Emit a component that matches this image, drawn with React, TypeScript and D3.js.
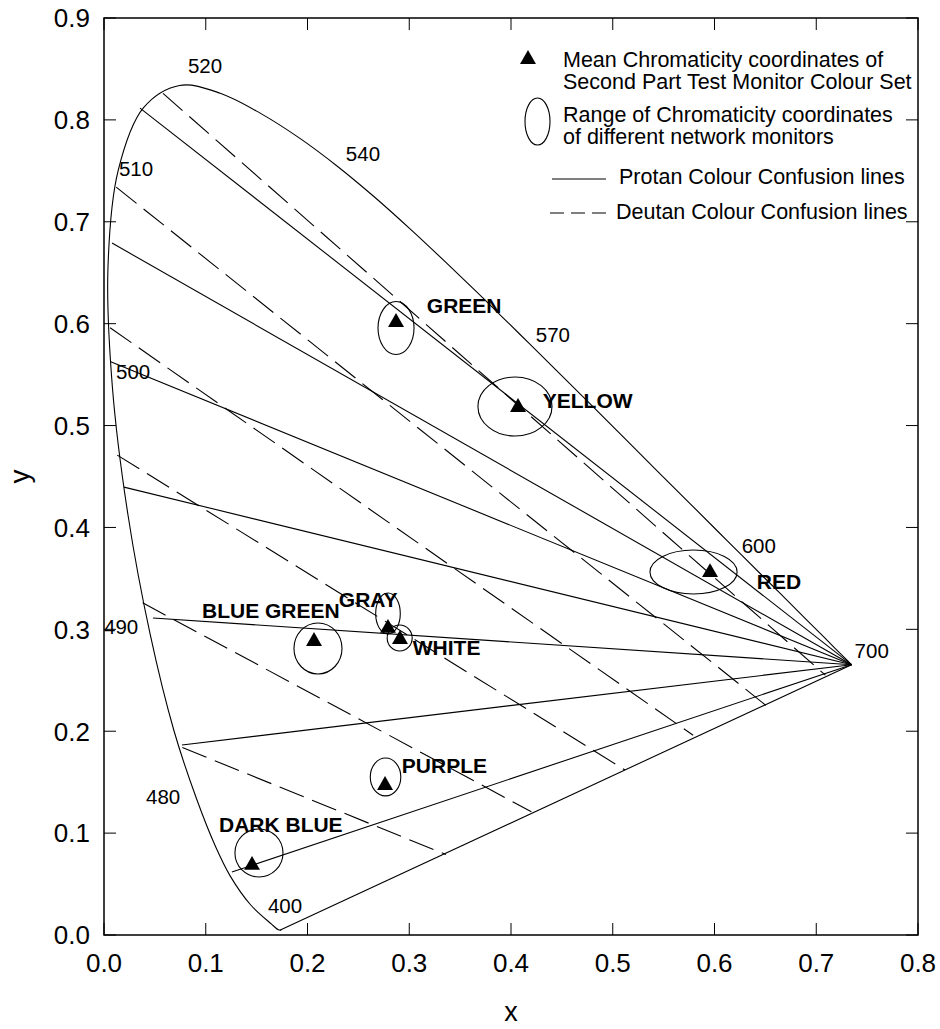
import React from "react";
import * as d3 from "d3";

// CIE 1931 spectral locus (wavelength in nm, chromaticity x, y)
const locusNm = [380, 400, 420, 440, 460, 470, 475, 480, 485, 490, 495, 500, 505, 510, 515, 520, 525, 530, 535, 540, 545, 550, 555, 560, 565, 570, 575, 580, 585, 590, 595, 600, 610, 620, 630, 640, 650, 660, 680, 700];
const locusX = [0.1741, 0.1733, 0.1714, 0.1644, 0.144, 0.1241, 0.1096, 0.0913, 0.0687, 0.0454, 0.0235, 0.0082, 0.0039, 0.0139, 0.0389, 0.0743, 0.1142, 0.1547, 0.1929, 0.2296, 0.2658, 0.3016, 0.3373, 0.3731, 0.4087, 0.4441, 0.4788, 0.5125, 0.5448, 0.5752, 0.6029, 0.627, 0.6658, 0.6915, 0.7079, 0.719, 0.726, 0.73, 0.7334, 0.7347];
const locusY = [0.005, 0.0048, 0.0051, 0.0109, 0.0297, 0.0578, 0.0868, 0.1327, 0.2007, 0.295, 0.4127, 0.5384, 0.6548, 0.7502, 0.812, 0.8338, 0.8262, 0.8059, 0.7816, 0.7543, 0.7243, 0.6923, 0.6589, 0.6245, 0.5896, 0.5547, 0.5202, 0.4866, 0.4544, 0.4242, 0.3965, 0.3725, 0.334, 0.3083, 0.292, 0.2809, 0.274, 0.27, 0.2666, 0.2653];

// Wavelength annotations along the locus
const wlText = ["520", "510", "540", "570", "500", "600", "700", "490", "480", "400"];
const wlX = [0.0825, 0.0147, 0.2377, 0.4244, 0.0118, 0.6267, 0.7377, 0.0, 0.0413, 0.1611];
const wlY = [0.8459, 0.7448, 0.7596, 0.5819, 0.5456, 0.3749, 0.2718, 0.2954, 0.1286, 0.0216];

// Protan confusion lines: start on the locus, all meet at the 700 nm corner
const protanCopoint = [0.7347, 0.2653];
const protanStartX = [0.0354, 0.0079, 0.006, 0.0196, 0.0481, 0.0766, 0.1257];
const protanStartY = [0.8116, 0.6791, 0.5628, 0.4396, 0.3111, 0.1865, 0.0618];

// Deutan confusion lines (start on the locus, end on the purple line)
const deutanStartX = [0.058, 0.012, 0.006, 0.013, 0.038, 0.077];
const deutanStartY = [0.826, 0.734, 0.596, 0.471, 0.326, 0.184];
const deutanEndX = [0.709, 0.651, 0.579, 0.512, 0.42, 0.336];
const deutanEndY = [0.255, 0.225, 0.196, 0.162, 0.121, 0.079];

// Test colours: mean chromaticity and spread across monitors
const colourNames = ["GREEN", "YELLOW", "RED", "BLUE GREEN", "GRAY", "WHITE", "PURPLE", "DARK BLUE"];
const meanX = [0.287, 0.4069, 0.5956, 0.2064, 0.2791, 0.2909, 0.2762, 0.1455];
const meanY = [0.6036, 0.5202, 0.3582, 0.2905, 0.3033, 0.2925, 0.1492, 0.0707];
const rangeCx = [0.287, 0.4039, 0.5794, 0.2103, 0.2791, 0.2906, 0.2767, 0.1523];
const rangeCy = [0.5957, 0.5187, 0.3563, 0.2812, 0.3155, 0.2915, 0.1551, 0.0805];
const rangeRx = [0.0177, 0.0364, 0.0428, 0.0236, 0.0121, 0.0123, 0.015, 0.0236];
const rangeRy = [0.026, 0.029, 0.0216, 0.025, 0.0201, 0.0128, 0.0186, 0.0236];
const nameX = [0.3173, 0.4312, 0.6415, 0.0963, 0.2308, 0.3035, 0.2927, 0.113];
const nameY = [0.6104, 0.5172, 0.3395, 0.3111, 0.3219, 0.2748, 0.159, 0.1011];

const xTicks = [0, 0.1, 0.2, 0.3, 0.4, 0.5, 0.6, 0.7, 0.8];
const yTicks = [0, 0.1, 0.2, 0.3, 0.4, 0.5, 0.6, 0.7, 0.8, 0.9];

const W = 940;
const H = 1029;
const FONT = "'Liberation Sans', Arial, Helvetica, sans-serif";

const x = d3.scaleLinear().domain([0, 0.8]).range([104, 918]);
const y = d3.scaleLinear().domain([0, 0.9]).range([935, 18]);

// Triangle marker, vertically centred on its bounding box
const tri = d3.symbol().type(d3.symbolTriangle).size(110)() as string;
const triShift = Math.sqrt(110 / (3 * Math.sqrt(3))) / 2;

// Smooth spectral locus through the tabulated wavelengths
const locusLine = d3
  .line<number>()
  .x((i) => x(locusX[i]))
  .y((i) => y(locusY[i]))
  .curve(d3.curveCatmullRom.alpha(0.5));

export default function App() {
  const locusPath = locusLine(locusNm.map((_, i) => i)) as string;
  const purpleLine = d3.line()([
    [x(locusX[1]), y(locusY[1])],
    [x(locusX[locusX.length - 1]), y(locusY[locusY.length - 1])],
  ]) as string;

  const [x0, x1] = x.range();
  const [y0, y1] = y.range();
  const tick = 12;

  return (
    <svg
      width={W}
      height={H}
      viewBox={`0 0 ${W} ${H}`}
      style={{ position: "absolute", left: 0, top: 0, background: "#fff", display: "block" }}
      fontFamily={FONT}
    >
      <rect x={0} y={0} width={W} height={H} fill="#fff" />

      {/* spectral locus and line of purples */}
      <path d={locusPath} fill="none" stroke="#000" strokeWidth={1.1} />
      <path d={purpleLine} fill="none" stroke="#000" strokeWidth={1.1} />

      {/* protan confusion lines */}
      {protanStartX.map((sx, i) => (
        <line
          key={`p${i}`}
          x1={x(sx)}
          y1={y(protanStartY[i])}
          x2={x(protanCopoint[0])}
          y2={y(protanCopoint[1])}
          stroke="#000"
          strokeWidth={1.1}
        />
      ))}

      {/* deutan confusion lines */}
      {deutanStartX.map((sx, i) => (
        <line
          key={`d${i}`}
          x1={x(sx)}
          y1={y(deutanStartY[i])}
          x2={x(deutanEndX[i])}
          y2={y(deutanEndY[i])}
          stroke="#000"
          strokeWidth={1.1}
          strokeDasharray="26 9"
        />
      ))}

      {/* monitor ranges */}
      {rangeCx.map((cx, i) => (
        <ellipse
          key={`e${i}`}
          cx={x(cx)}
          cy={y(rangeCy[i])}
          rx={x(cx + rangeRx[i]) - x(cx)}
          ry={y(rangeCy[i]) - y(rangeCy[i] + rangeRy[i])}
          fill="none"
          stroke="#000"
          strokeWidth={1.1}
        />
      ))}

      {/* mean chromaticities */}
      {meanX.map((mx, i) => (
        <path key={`m${i}`} d={tri} transform={`translate(${x(mx)},${y(meanY[i]) + triShift})`} fill="#000" />
      ))}

      {/* colour names */}
      {colourNames.map((n, i) => (
        <text key={`n${i}`} x={x(nameX[i])} y={y(nameY[i])} fontSize={21} fontWeight="bold" fill="#000">
          {n}
        </text>
      ))}

      {/* wavelength annotations */}
      {wlText.map((t, i) => (
        <text key={`w${i}`} x={x(wlX[i])} y={y(wlY[i])} fontSize={20.5} fill="#000">
          {t}
        </text>
      ))}

      {/* frame */}
      <rect x={x0} y={y1} width={x1 - x0} height={y0 - y1} fill="none" stroke="#000" strokeWidth={1.5} />

      {/* x ticks (bottom and top, inward) */}
      {xTicks.map((t) => (
        <g key={`xt${t}`}>
          <line x1={x(t)} x2={x(t)} y1={y0} y2={y0 - tick} stroke="#000" strokeWidth={1} />
          <line x1={x(t)} x2={x(t)} y1={y1} y2={y1 + tick} stroke="#000" strokeWidth={1} />
          <text x={x(t)} y={972} textAnchor="middle" fontSize={26} fill="#000">
            {d3.format(".1f")(t)}
          </text>
        </g>
      ))}

      {/* y ticks (left and right, inward) */}
      {yTicks.map((t) => (
        <g key={`yt${t}`}>
          <line x1={x0} x2={x0 + tick} y1={y(t)} y2={y(t)} stroke="#000" strokeWidth={1} />
          <line x1={x1} x2={x1 - tick} y1={y(t)} y2={y(t)} stroke="#000" strokeWidth={1} />
          <text x={90} y={y(t)} dy="0.36em" textAnchor="end" fontSize={26} fill="#000">
            {d3.format(".1f")(t)}
          </text>
        </g>
      ))}

      {/* axis titles */}
      <text x={(x0 + x1) / 2} y={1021} textAnchor="middle" fontSize={27} fill="#000">
        x
      </text>
      <text transform={`translate(29,${(y0 + y1) / 2}) rotate(-90)`} textAnchor="middle" fontSize={28} fill="#000">
        y
      </text>

      {/* legend */}
      <g fontSize={21.5} fill="#000">
        <path d={tri} transform={`translate(528,${57 + triShift})`} fill="#000" />
        <text x={563} y={67}>Mean Chromaticity coordinates of</text>
        <text x={563} y={89}>Second Part Test Monitor Colour Set</text>

        <ellipse cx={537.5} cy={121.5} rx={12.5} ry={23.5} fill="none" stroke="#000" strokeWidth={1.1} />
        <text x={563} y={122}>Range of Chromaticity coordinates</text>
        <text x={563} y={144}>of different network monitors</text>

        <line x1={552} x2={606} y1={179} y2={179} stroke="#000" strokeWidth={1.1} />
        <text x={619} y={184}>Protan Colour Confusion lines</text>

        <line x1={550} x2={606} y1={213} y2={213} stroke="#000" strokeWidth={1.1} strokeDasharray="14 7" />
        <text x={616} y={219}>Deutan Colour Confusion lines</text>
      </g>
    </svg>
  );
}
